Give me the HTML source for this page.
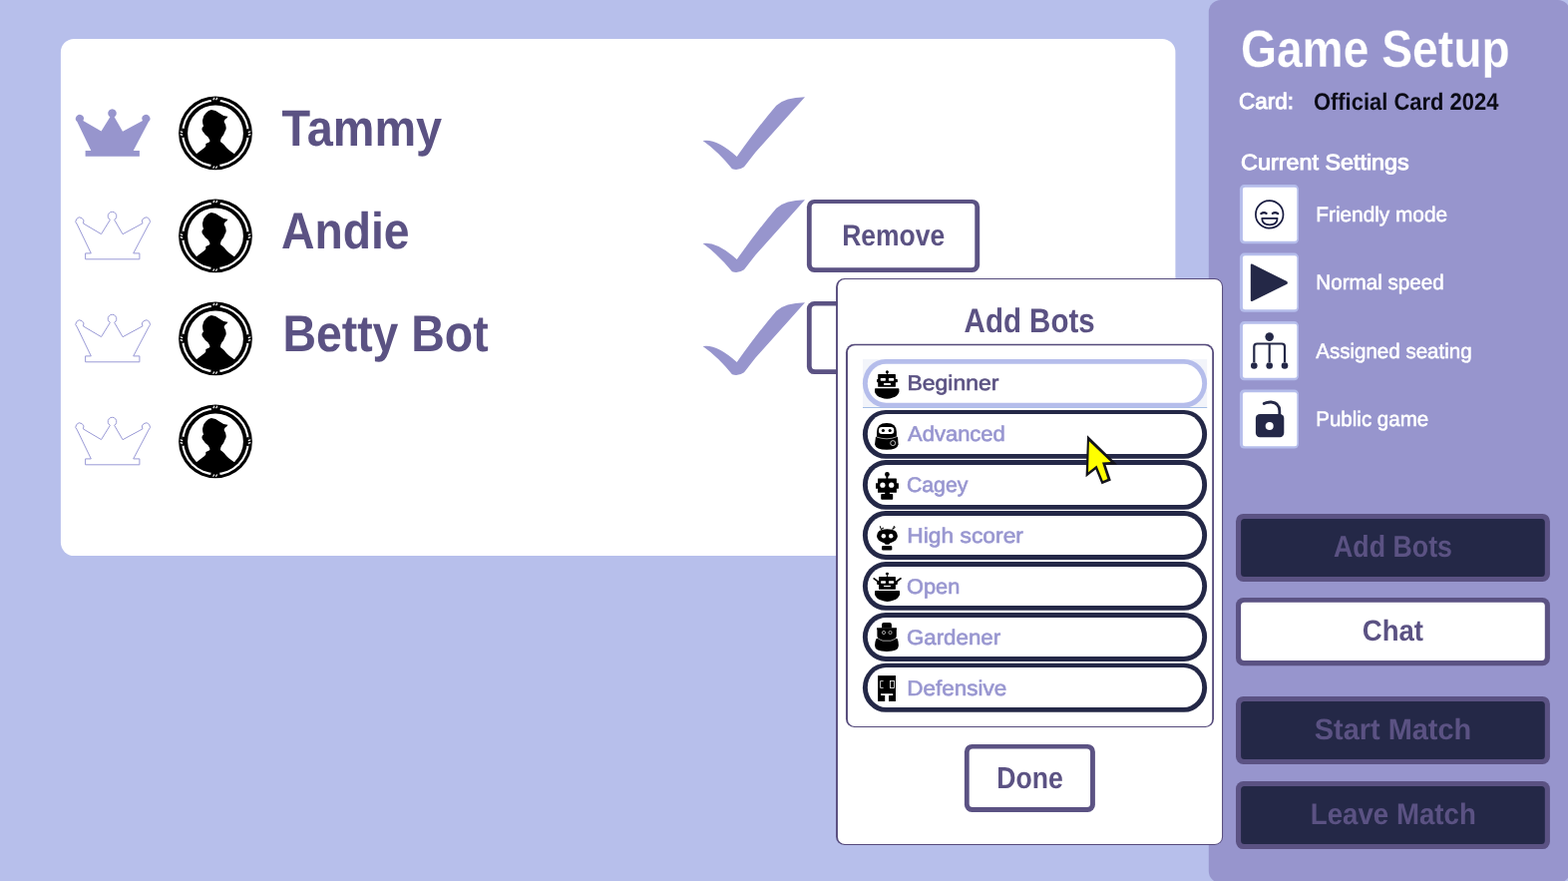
<!DOCTYPE html>
<html lang="en">
<head>
<meta charset="utf-8">
<title>Game Setup</title>
<style>
*{box-sizing:border-box;margin:0;padding:0}
html,body{width:1572px;height:883px;overflow:hidden;background:#b7bfeb}
body{position:relative;font-family:"Liberation Sans",sans-serif;font-weight:bold;color:#5b5283}
#art{position:absolute;left:0;top:0;width:1572px;height:883px;display:block}
#txt{position:absolute;left:0;top:0;width:1572px;height:883px;will-change:transform}
.t{position:absolute;left:0;top:0;white-space:nowrap;line-height:1;transform-origin:0 0;display:block;text-rendering:geometricPrecision}
</style>
</head>
<body>
<svg id="art" width="1572" height="883" viewBox="0 0 1572 883">
<!-- player panel, sidebar, remove buttons -->
<rect x="60.90" y="38.90" width="1117.50" height="518.20" rx="13.5" fill="#fff"/>
<rect x="1211.80" y="0.00" width="362.20" height="885.00" rx="12" fill="#9795cd"/>
<rect x="808.90" y="199.90" width="173.30" height="73.10" rx="7.5" fill="#5b5283"/><rect x="813.70" y="203.90" width="163.60" height="64.30" rx="3.5" fill="#fff"/>
<rect x="808.90" y="302.00" width="173.30" height="73.10" rx="7.5" fill="#5b5283"/><rect x="813.70" y="306.60" width="163.60" height="63.70" rx="3.5" fill="#fff"/>

<defs>
<clipPath id="avc"><circle r="29.5"/></clipPath>
<path id="crown" d="M85.6 156.8V150.9H91.3L77.33 121.96A4 4 0 1 1 83.36 120.9L101.5 131.6L110.35 117.32A4.3 4.3 0 1 1 114.65 117.32L123 131.7L142.94 120.9A4 4 0 1 1 148.97 121.96L133.7 150.9H139.9V156.8Z"/>
<path id="check" d="M704.6 141.1Q718 138.5 738.75 157Q760 127 778.3 105.7Q787 97.5 807 97.2L757.5 152.6L746 167.2Q740 171.5 734 169.3Q720 152 704.6 141.1Z"/>
<g id="ava">
<circle r="36.9" fill="#000"/>
<circle r="33.85" fill="#fff"/>
<circle r="31.75" fill="#000"/>
<circle r="32.4" fill="none" stroke="#000" stroke-width="3" stroke-dasharray="9 41.9" stroke-dashoffset="4.5"/>
<circle r="27.9" fill="#fff"/>
<path fill="#000" clip-path="url(#avc)" d="M-4.1 -23.5Q0.5 -23.3 3.7 -20.1Q8 -16.5 12.5 -16.7Q11.5 -14.5 9.5 -13.7Q8.8 -12.5 8.6 -11.3Q10.5 -8.5 10.7 -5.5Q10.8 -3 9.5 -1.6Q8.5 2 6.1 4.3Q5 6 4.9 8.7Q7 10 8.6 11.6Q11 14.8 13.4 16.9L22 23V32H-22V23L-12.9 16Q-10.5 14.5 -9.7 13V10.6Q-7 9.8 -5.6 8.7Q-5.6 6 -7.5 3.8Q-10.5 2 -11.9 -0.6Q-13.8 -2.5 -13.6 -4.5Q-13.2 -6 -11.9 -6.9Q-13.2 -10 -12.9 -13.2Q-12.5 -17.5 -9.4 -20.1Q-7 -23.3 -4.1 -23.5Z"/>
<g stroke="#fff" stroke-width="1.1" fill="none">
<path d="M-2.2 -33.2l1.2 -2.4M0.6 -33.2l1.2 -2.4M-2.4 35.4l1.2 -2.4M0.4 35.4l1.2 -2.4M-35.4 -1.6l2.6 0.8M-35.4 1.2l2.6 0.8M32.8 -0.8l2.6 -0.8M32.8 2l2.6 -0.8"/>
</g>
</g>
</defs>
<!-- crowns -->
<use href="#crown" fill="#9795cd"/>
<use href="#crown" y="103" fill="none" stroke="#9a9ad6" stroke-width="1"/>
<use href="#crown" y="206" fill="none" stroke="#9a9ad6" stroke-width="1"/>
<use href="#crown" y="309" fill="none" stroke="#9a9ad6" stroke-width="1"/>
<!-- avatars -->
<use href="#ava" x="216" y="133.4"/>
<use href="#ava" x="216" y="236.4"/>
<use href="#ava" x="216" y="339.4"/>
<use href="#ava" x="216" y="442.4"/>
<!-- checks -->
<use href="#check" fill="#9795cd"/>
<use href="#check" y="103" fill="#9795cd"/>
<use href="#check" y="206" fill="#9795cd"/>

<!-- sidebar settings + buttons -->
<rect x="1242.90" y="185.10" width="59.10" height="59.10" rx="4.5" fill="#b5bdeb"/><rect x="1245.90" y="187.80" width="54.40" height="54.00" rx="2.2" fill="#fff"/>
<rect x="1242.90" y="253.60" width="59.10" height="59.10" rx="4.5" fill="#b5bdeb"/><rect x="1245.90" y="256.30" width="54.40" height="54.00" rx="2.2" fill="#fff"/>
<rect x="1242.90" y="322.10" width="59.10" height="59.10" rx="4.5" fill="#b5bdeb"/><rect x="1245.90" y="324.80" width="54.40" height="54.00" rx="2.2" fill="#fff"/>
<rect x="1242.90" y="390.50" width="59.10" height="59.10" rx="4.5" fill="#b5bdeb"/><rect x="1245.90" y="393.20" width="54.40" height="54.00" rx="2.2" fill="#fff"/>
<rect x="1239.00" y="514.90" width="314.90" height="68.10" rx="7.5" fill="#5b5283"/><rect x="1244.10" y="520.00" width="304.70" height="57.90" rx="3.5" fill="#242847"/>
<rect x="1239.00" y="599.10" width="314.90" height="68.10" rx="7.5" fill="#5b5283"/><rect x="1244.10" y="603.80" width="304.70" height="58.30" rx="3.5" fill="#fff"/>
<rect x="1239.00" y="697.90" width="314.90" height="68.10" rx="7.5" fill="#5b5283"/><rect x="1244.10" y="703.00" width="304.70" height="57.90" rx="3.5" fill="#242847"/>
<rect x="1239.00" y="783.00" width="314.90" height="68.10" rx="7.5" fill="#5b5283"/><rect x="1244.10" y="788.10" width="304.70" height="57.90" rx="3.5" fill="#242847"/>

<!-- smiley -->
<g fill="none" stroke="#171a3f" stroke-width="1.7" stroke-linecap="round" stroke-linejoin="round">
<circle cx="1272.7" cy="214.9" r="13.8"/>
<path stroke-width="2.1" d="M1264.3 214.2Q1267 212.2 1269.6 213.9M1275.8 213.9Q1278.4 212.2 1281.2 214.2"/>
<path d="M1265.2 218.9H1280.6Q1280.2 224 1276.2 224.9Q1272.9 225.7 1269.6 224.9Q1265.6 224 1265.2 218.9Z"/>
</g>
<!-- play -->
<path d="M1255.2 264.6Q1253.8 264.2 1253.8 265.8V300.8Q1253.8 302.4 1255.4 301.9L1290.2 284.8Q1291.6 283.4 1290.2 282Z" fill="#242847"/>
<!-- seating -->
<g fill="#242847" stroke="none">
<circle cx="1272.7" cy="337.6" r="4.3"/>
<circle cx="1257.3" cy="366.5" r="3.3"/>
<circle cx="1272.7" cy="366.5" r="3.3"/>
<circle cx="1288" cy="366.5" r="3.3"/>
</g>
<path d="M1257.3 363V347.5Q1257.3 344.5 1260.3 344.5H1285Q1288 344.5 1288 347.5V363M1272.7 344.5V363" fill="none" stroke="#242847" stroke-width="2.2"/>
<!-- lock -->
<rect x="1258.9" y="414.9" width="28.4" height="23.4" rx="4.2" fill="#242847"/>
<circle cx="1272.7" cy="427.1" r="4" fill="#fff"/>
<path d="M1267.2 404.5Q1270.5 402.8 1274.5 403Q1282.6 403.6 1282.8 412V416.5" fill="none" stroke="#242847" stroke-width="2.8" stroke-linecap="round"/>

<!-- add bots popup -->
<rect x="838.05" y="278.90" width="388.05" height="568.15" rx="8.5" fill="#554a7b"/><rect x="839.95" y="279.90" width="385.10" height="566.15" rx="7.3" fill="#fff"/>
<rect x="847.95" y="344.75" width="369.05" height="384.30" rx="8.5" fill="#554a7b"/><rect x="849.95" y="346.15" width="365.25" height="381.95" rx="7.2" fill="#fff"/>
<rect x="865" y="360" width="345.2" height="49" fill="#f2f4fa"/>
<rect x="865" y="408.2" width="345.2" height="0.8" fill="#8fb0e0"/>
<rect x="864.90" y="359.90" width="345.20" height="48.70" rx="23" ry="24.35" fill="#b5bdeb"/><rect x="869.80" y="364.80" width="335.40" height="38.90" rx="18.6" ry="19.45" fill="#fff"/>
<rect x="864.90" y="410.90" width="345.20" height="48.90" rx="23" ry="24.45" fill="#242847"/><rect x="869.80" y="415.10" width="335.40" height="39.80" rx="18.6" ry="19.90" fill="#fff"/>
<rect x="864.90" y="461.00" width="345.20" height="49.80" rx="23" ry="24.90" fill="#242847"/><rect x="869.80" y="465.90" width="335.40" height="40.00" rx="18.6" ry="20.00" fill="#fff"/>
<rect x="864.90" y="512.00" width="345.20" height="48.90" rx="23" ry="24.45" fill="#242847"/><rect x="869.80" y="516.90" width="335.40" height="39.10" rx="18.6" ry="19.55" fill="#fff"/>
<rect x="864.90" y="563.10" width="345.20" height="48.70" rx="23" ry="24.35" fill="#242847"/><rect x="869.80" y="568.00" width="335.40" height="38.90" rx="18.6" ry="19.45" fill="#fff"/>
<rect x="864.90" y="614.00" width="345.20" height="48.90" rx="23" ry="24.45" fill="#242847"/><rect x="869.80" y="618.90" width="335.40" height="39.10" rx="18.6" ry="19.55" fill="#fff"/>
<rect x="864.90" y="664.70" width="345.20" height="49.10" rx="23" ry="24.55" fill="#242847"/><rect x="869.80" y="668.90" width="335.40" height="40.00" rx="18.6" ry="20.00" fill="#fff"/>
<rect x="966.90" y="745.90" width="131.00" height="68.00" rx="7.5" fill="#5b5283"/><rect x="971.70" y="750.60" width="121.35" height="58.35" rx="3.5" fill="#fff"/>

<!-- beginner -->
<g fill="#000">
<circle cx="889.4" cy="372.7" r="1.5"/><rect x="888.9" y="373" width="1" height="2.5"/>
<rect x="880.2" y="375" width="17.7" height="12.8" rx="0.6"/>
<rect x="879" y="380" width="20.9" height="3.2" rx="0.8"/>
<path d="M877 390Q877 389.2 877.8 389.2H900.6Q901.4 389.2 901.4 390V393Q900 397 895 398.6Q892 399.8 889.2 399.8Q886.4 399.8 883.4 398.6Q878.4 397 877 393Z"/>
</g>
<g fill="#fff"><rect x="882.7" y="379" width="5.2" height="2.7" rx="0.7"/><rect x="890.9" y="379" width="5.3" height="2.7" rx="0.7"/><rect x="886" y="384" width="6.9" height="2" rx="0.3"/></g>
<!-- advanced -->
<g fill="#000">
<path d="M879 433Q879 424 889 424Q898.9 424 898.9 433V438.4H879Z"/>
<path d="M878 437.7H900L900.6 445.5Q899.5 450.8 889 450.8Q878.2 450.8 877 445.5Z"/>
</g>
<rect x="881" y="428" width="15.3" height="7" rx="3.2" fill="#fff"/>
<circle cx="885.4" cy="431.5" r="1.6" fill="#000"/><circle cx="892.2" cy="431.5" r="1.6" fill="#000"/>
<path d="M878.8 438Q884 439.8 889 439.8Q894.5 439.8 899.4 437.6" fill="none" stroke="#fff" stroke-width="0.6"/>
<circle cx="895.2" cy="444.1" r="2.5" fill="none" stroke="#fff" stroke-width="0.7"/>
<!-- cagey -->
<g fill="#000">
<circle cx="889.4" cy="475.5" r="2.4"/><rect x="888.4" y="476" width="1.9" height="4"/>
<rect x="880" y="479.5" width="18.9" height="14.2" rx="0.5"/>
<rect x="878" y="484.2" width="22.9" height="5.6" rx="0.4"/>
<rect x="887.2" y="493" width="4.7" height="3"/>
<rect x="883.2" y="495.1" width="12" height="5.6" rx="0.9"/>
</g>
<circle cx="884.9" cy="486.2" r="2.6" fill="#fff"/><circle cx="893.7" cy="486.2" r="2.6" fill="#fff"/>
<!-- high scorer -->
<g fill="#000">
<path d="M889.4 530.2Q899.9 530.2 899.9 537.3Q899.9 542 892 544.4L891.3 545.8H887.6L886.9 544.4Q879 542 879 537.3Q879 530.2 889.4 530.2Z"/>
<rect x="884" y="547.1" width="10.3" height="4.4" rx="1.3"/>
</g>
<path d="M884.2 531Q882.2 530 882.3 527.6M883.2 530.4L885.6 529.2M894.6 531Q896.6 530 896.4 527.4M895 529.6L897.2 528.8" fill="none" stroke="#000" stroke-width="1" stroke-linecap="round"/>
<circle cx="885.8" cy="537.2" r="2.2" fill="#fff"/><circle cx="893.2" cy="537.2" r="2.2" fill="#fff"/>
<!-- open -->
<g fill="#000">
<ellipse cx="889.4" cy="575" rx="1.6" ry="1.2"/><rect x="888.9" y="575" width="1" height="3.4"/>
<rect x="881" y="578" width="16.9" height="12.8" rx="0.6"/>
<rect x="879.2" y="582.4" width="20.6" height="3.6" rx="0.8"/>
<path d="M877 593Q877 592 878 592H901.1Q902.1 592 902.1 593V596Q900.5 600 896 601.6Q893 602.9 889.5 602.9Q886.4 602.9 883.4 601.6Q878.4 600 877 596Z"/>
</g>
<path d="M880.6 583.2L876.2 579.8M898.3 583.2L903 579.8" stroke="#000" stroke-width="1.7" stroke-linecap="round" fill="none"/>
<g fill="#fff"><rect x="883" y="582.2" width="5" height="2.6" rx="0.7"/><rect x="890.9" y="582.2" width="5.3" height="2.6" rx="0.7"/><rect x="886" y="586.9" width="6.9" height="1.1"/></g>
<!-- gardener -->
<g fill="#000">
<path d="M884 629.6V626Q884 624 886 624H891.9Q893.9 624 893.9 626V629.6Z"/>
<rect x="879" y="629.2" width="20" height="2" rx="0.4"/>
<path d="M879.4 630.5H898.8V637Q898.8 640.6 895 640.6H883Q879.4 640.6 879.4 637Z"/>
<path d="M878.6 640H899.6Q900.9 643 900.9 647Q900.9 652.9 889 652.9Q877 652.9 877 647Q877 643 878.6 640Z"/>
</g>
<circle cx="886" cy="634" r="1.6" fill="none" stroke="#fff" stroke-width="0.6"/><circle cx="892.5" cy="634" r="1.6" fill="none" stroke="#fff" stroke-width="0.6"/>
<path d="M880.4 640.2L885 642.2H893L897.9 640.2" fill="none" stroke="#fff" stroke-width="0.6"/>
<!-- defensive -->
<rect x="880.1" y="677.1" width="17.9" height="25.8" fill="#000"/>
<g fill="none" stroke="#fff" stroke-width="0.8"><path d="M885.6 682.6H882.6V689.4H885.6"/><rect x="892.6" y="682.6" width="4" height="6.8"/></g>
<path d="M883 695.2H895.2V696.9H891V702.9H887.2V696.9H883Z" fill="#fff"/>
<!-- cursor -->
<path d="M1090.05 436.3L1120 465.4L1108.5 465.65L1113.85 481.5L1104.55 485.3L1098.45 470.4L1088.55 478.35Z" fill="#14141c"/>
<path d="M1091.9 442.2L1113.6 463.1L1105 463.4L1110.4 479.9L1105.8 481.9L1099.5 466.6L1091.1 473.2Z" fill="#ffff00"/>

</svg>

<div id="txt">
<!-- player names -->
<span class="t" style="font-size:51.23px;color:#5b5283;transform:translate(282.47px,102.88px) scaleX(0.9155)">Tammy</span>
<span class="t" style="font-size:51.44px;color:#5b5283;transform:translate(282.02px,205.70px) scaleX(0.9000)">Andie</span>
<span class="t" style="font-size:51.44px;color:#5b5283;transform:translate(283.41px,308.70px) scaleX(0.9020)">Betty Bot</span>
<span class="t" style="font-size:29.80px;color:#5b5283;transform:translate(844.13px,221.91px) scaleX(0.8888)">Remove</span>

<!-- sidebar -->
<span class="t" style="font-size:52.55px;color:#ffffff;transform:translate(1243.96px,23.91px) scaleX(0.8796);-webkit-text-stroke:0.26px #9795cd">Game Setup</span>
<span class="t" style="font-size:22.51px;color:#ffffff;transform:translate(1242.11px,90.59px) scaleX(0.9957);font-weight:normal;-webkit-text-stroke:0.90px #ffffff">Card:</span>
<span class="t" style="font-size:23.86px;color:#0b0b16;transform:translate(1316.90px,90.92px) scaleX(0.9204)">Official Card 2024</span>
<span class="t" style="font-size:21.98px;color:#ffffff;transform:translate(1244.08px,152.04px) scaleX(1.0624);font-weight:normal;-webkit-text-stroke:0.88px #ffffff">Current Settings</span>
<span class="t" style="font-size:21.02px;color:#ffffff;transform:translate(1319.25px,205.05px) scaleX(0.9900);font-weight:normal;-webkit-text-stroke:0.53px #ffffff">Friendly mode</span>
<span class="t" style="font-size:21.02px;color:#ffffff;transform:translate(1319.26px,273.05px) scaleX(0.9815);font-weight:normal;-webkit-text-stroke:0.53px #ffffff">Normal speed</span>
<span class="t" style="font-size:21.02px;color:#ffffff;transform:translate(1319.27px,342.05px) scaleX(0.9763);font-weight:normal;-webkit-text-stroke:0.53px #ffffff">Assigned seating</span>
<span class="t" style="font-size:21.02px;color:#ffffff;transform:translate(1319.27px,410.05px) scaleX(0.9763);font-weight:normal;-webkit-text-stroke:0.53px #ffffff">Public game</span>
<span class="t" style="font-size:30.23px;color:#5b5283;transform:translate(1336.99px,533.55px) scaleX(0.8859)">Add Bots</span>
<span class="t" style="font-size:29.51px;color:#5b5283;transform:translate(1365.76px,618.16px) scaleX(0.9341)">Chat</span>
<span class="t" style="font-size:29.51px;color:#5b5283;transform:translate(1317.80px,717.17px) scaleX(0.9801)">Start Match</span>
<span class="t" style="font-size:29.80px;color:#5b5283;transform:translate(1313.86px,801.91px) scaleX(0.9277)">Leave Match</span>

<!-- popup -->
<span class="t" style="font-size:34.10px;color:#5b5283;transform:translate(966.62px,305.30px) scaleX(0.8651)">Add Bots</span>
<span class="t" style="font-size:21.38px;color:#5b5283;transform:translate(909.46px,373.70px) scaleX(1.0735);font-weight:normal;-webkit-text-stroke:0.64px #5b5283">Beginner</span>
<span class="t" style="font-size:21.44px;color:#9896d0;transform:translate(910.11px,424.64px) scaleX(1.0240);font-weight:normal;-webkit-text-stroke:0.64px #9896d0">Advanced</span>
<span class="t" style="font-size:21.14px;color:#9896d0;transform:translate(908.93px,475.90px) scaleX(1.0062);font-weight:normal;-webkit-text-stroke:0.63px #9896d0">Cagey</span>
<span class="t" style="font-size:21.44px;color:#9896d0;transform:translate(909.27px,526.64px) scaleX(1.0642);font-weight:normal;-webkit-text-stroke:0.64px #9896d0">High scorer</span>
<span class="t" style="font-size:21.14px;color:#9896d0;transform:translate(908.99px,577.90px) scaleX(1.0307);font-weight:normal;-webkit-text-stroke:0.63px #9896d0">Open</span>
<span class="t" style="font-size:21.14px;color:#9896d0;transform:translate(908.91px,628.90px) scaleX(1.0561);font-weight:normal;-webkit-text-stroke:0.63px #9896d0">Gardener</span>
<span class="t" style="font-size:21.44px;color:#9896d0;transform:translate(909.29px,679.64px) scaleX(1.0481);font-weight:normal;-webkit-text-stroke:0.64px #9896d0">Defensive</span>
<span class="t" style="font-size:30.38px;color:#5b5283;transform:translate(999.32px,765.43px) scaleX(0.8770)">Done</span>
</div>
</body>
</html>
